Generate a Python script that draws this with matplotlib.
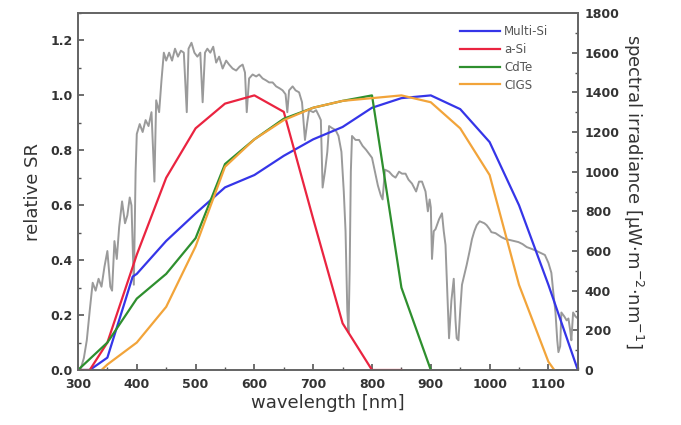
#!/usr/bin/env python3

import numpy as np
import matplotlib
matplotlib.use("Agg")
import matplotlib.pyplot as plt
from matplotlib.ticker import MultipleLocator

# ----------------------------------------------------------
# data
# ----------------------------------------------------------
msi_nm = [300, 320, 350, 380, 393, 400, 450, 500, 550, 600, 650, 700, 750,
          800, 850, 900, 950, 1000, 1050, 1100, 1150]
msi_sr = [0.0, 0.0, 0.045, 0.25, 0.34, 0.35, 0.47, 0.57, 0.665, 0.71, 0.78,
          0.84, 0.885, 0.955, 0.99, 1.0, 0.95, 0.83, 0.6, 0.31, 0.0]

asi_nm = [300, 320, 350, 400, 450, 500, 550, 600, 650, 700, 750, 800, 850]
asi_sr = [0.0, 0.0, 0.1, 0.42, 0.7, 0.88, 0.97, 1.0, 0.94, 0.55, 0.17, 0.0, 0.0]

cdte_nm = [300, 350, 400, 450, 500, 550, 600, 650, 700, 750, 800, 850, 900]
cdte_sr = [0.0, 0.1, 0.26, 0.35, 0.48, 0.75, 0.84, 0.915, 0.955, 0.98, 1.0,
           0.3, 0.0]

cigs_nm = [340, 350, 400, 450, 500, 550, 600, 650, 700, 750, 800, 850, 900,
           950, 1000, 1050, 1100, 1110]
cigs_sr = [0.0, 0.02, 0.1, 0.23, 0.45, 0.74, 0.84, 0.91, 0.955, 0.98, 0.99,
           1.0, 0.975, 0.88, 0.71, 0.31, 0.03, 0.0]

# spectral irradiance (gray)
irr_nm = [300, 305, 310, 315, 320, 325, 330, 335, 340, 345, 350, 355, 358,
          362, 366, 370, 375, 380, 384, 388, 391, 395, 398, 400, 405, 410,
          415, 420, 425, 430, 433, 438, 442, 446, 450, 455, 460, 465, 470,
          475, 480, 485, 488, 493, 498, 503, 508, 512, 516, 520, 525, 530,
          535, 540, 546, 552, 557, 563, 569, 575, 580, 584, 587, 591, 597,
          603, 608, 614, 620, 625, 631, 637, 643, 648, 653, 656, 659, 665,
          670, 676, 681, 686, 690, 693, 700, 705, 710, 713, 716, 720, 724,
          727, 732, 738, 743, 748, 752, 755, 758, 760, 762, 764, 766, 772,
          778, 784, 790, 795, 800, 805, 810, 815, 818, 822, 829, 835, 840,
          846, 851, 857, 862, 868, 875, 880, 885, 891, 895, 898, 900, 902,
          905, 908, 914, 919, 922, 925, 928, 931, 935, 939, 942, 944, 947,
          950, 953, 957, 961, 966, 970, 974, 978, 983, 987, 991, 995, 1000,
          1003, 1010, 1015, 1020, 1027, 1035, 1042, 1049, 1056, 1063, 1072,
          1080, 1087, 1094, 1100, 1105, 1108, 1112, 1115, 1117, 1120, 1122,
          1127, 1131, 1134, 1137, 1139, 1142, 1146, 1150]
irr_val = [0, 10, 60, 150, 300, 440, 400, 460, 420, 520, 600, 420, 400,
           650, 560, 720, 850, 740, 780, 870, 830, 430, 1000, 1190, 1240, 1200,
           1260, 1230, 1300, 950, 1360, 1300, 1460, 1600, 1560, 1600, 1560,
           1620, 1580, 1610, 1600, 1300, 1620, 1650, 1600, 1580, 1600, 1350,
           1600, 1620, 1600, 1630, 1550, 1580, 1520, 1560, 1540, 1520, 1510,
           1530, 1540, 1500, 1300, 1470, 1490, 1480, 1490, 1470, 1460, 1450,
           1450, 1430, 1420, 1410, 1390, 1300, 1410, 1430, 1410, 1400, 1350,
           1160, 1250, 1310, 1300, 1310, 1280, 1260, 920, 1000, 1100, 1230,
           1220, 1210, 1180, 1100, 900, 700, 300, 190, 500, 1000, 1180, 1160,
           1160, 1130, 1110, 1090, 1070, 1000, 930, 880, 860, 1010, 1000, 980,
           970, 1000, 990, 990, 960, 940, 900, 950, 950, 900, 800, 860, 820,
           560, 700, 710, 760, 790, 700, 630, 400, 160, 350, 460, 250, 160,
           150, 300, 430, 480, 530, 600, 660, 700, 730, 750, 745, 740, 730,
           710, 695, 690, 680, 670, 660, 655, 650, 645, 635, 620, 610, 600,
           590, 580, 540, 490, 400, 290, 150, 90, 120, 290, 270, 250, 260, 200,
           150, 290, 270, 260]

x_ticks = [300, 400, 500, 600, 700, 800, 900, 1000, 1100]

# ----------------------------------------------------------
# plot
# ----------------------------------------------------------
plt.rcParams['font.family'] = ['DejaVu Sans']

fig = plt.figure(figsize=(6.81, 4.25), dpi=100)
ax = fig.add_axes([0.1145, 0.1294, 0.734, 0.840])
ax2 = ax.twinx()

ax2.plot(irr_nm, irr_val, color="#9a9a9a", lw=1.4)

ax.plot(msi_nm, msi_sr, color="#3535e8", lw=1.6, label="Multi-Si")
ax.plot(asi_nm, asi_sr, color="#ea2440", lw=1.6, label="a-Si")
ax.plot(cdte_nm, cdte_sr, color="#2e8f2e", lw=1.6, label="CdTe")
ax.plot(cigs_nm, cigs_sr, color="#f2a43a", lw=1.6, label="CIGS")

# SR lines above the irradiance curve
ax.set_zorder(ax2.get_zorder() + 1)
ax.patch.set_visible(False)

ax.set_xlim(300, 1150)
ax.set_ylim(0, 1.3)
ax2.set_ylim(0, 1800)

ax.set_xticks(x_ticks)
ax.xaxis.set_minor_locator(MultipleLocator(50))
ax.set_yticks([0.0, 0.2, 0.4, 0.6, 0.8, 1.0, 1.2])
ax.yaxis.set_minor_locator(MultipleLocator(0.1))
ax2.set_yticks([0, 200, 400, 600, 800, 1000, 1200, 1400, 1600, 1800])
ax2.yaxis.set_minor_locator(MultipleLocator(100))

for a in (ax, ax2):
    a.tick_params(which="major", direction="in", length=4, width=1.2,
                  color="#555555", labelsize=9, labelcolor="#333333")
    a.tick_params(which="minor", direction="in", length=2.5, width=1,
                  color="#555555")
    for s in a.spines.values():
        s.set_color("#666666")
        s.set_linewidth(1.3)
    for lab in a.get_xticklabels() + a.get_yticklabels():
        lab.set_fontweight("bold")

ax.tick_params(axis="x", pad=6)
ax.tick_params(axis="y", pad=4)
ax2.tick_params(axis="y", pad=5)

ax.set_xlabel("wavelength [nm]", fontsize=13, color="#333333", labelpad=2)
ax.set_ylabel("relative SR", fontsize=13, color="#333333", labelpad=6)
ax2.set_ylabel("spectral irradiance [μW·m$^{-2}$·nm$^{-1}$]",
               fontsize=13, color="#333333", rotation=270, labelpad=18)

leg = ax.legend(loc="upper right", bbox_to_anchor=(0.955, 0.985), frameon=False,
                fontsize=8.5, handlelength=3.4, handletextpad=0.3,
                labelspacing=0.4, borderaxespad=0.2)
for t in leg.get_texts():
    t.set_color("#555555")

fig.savefig("out.png", dpi=100)
